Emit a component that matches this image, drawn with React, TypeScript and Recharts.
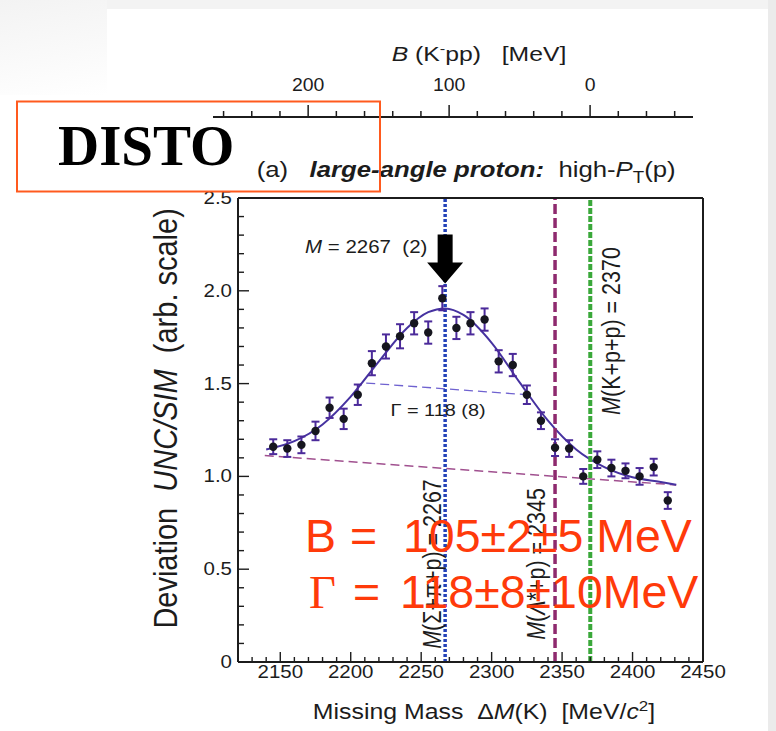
import React from "react";
import { ComposedChart, Scatter, Line, XAxis, YAxis, ReferenceLine, ReferenceDot, ErrorBar } from "recharts";

// measured points: missing mass [MeV/c2] -> deviation UNC/SIM
const massPoints = [2145, 2155, 2165, 2175, 2185, 2195, 2205, 2215, 2225, 2235, 2245, 2255, 2265, 2275, 2285, 2295, 2305, 2315, 2325, 2335, 2345, 2355, 2365, 2375, 2385, 2395, 2405, 2415, 2425];
const deviation = [1.16, 1.15, 1.17, 1.245, 1.37, 1.31, 1.44, 1.61, 1.70, 1.755, 1.825, 1.775, 1.96, 1.80, 1.825, 1.845, 1.62, 1.60, 1.44, 1.30, 1.155, 1.15, 1.00, 1.09, 1.045, 1.03, 1.00, 1.05, 0.87];
const deviationErr = [0.04, 0.045, 0.045, 0.05, 0.055, 0.055, 0.055, 0.065, 0.065, 0.065, 0.06, 0.06, 0.065, 0.06, 0.06, 0.06, 0.06, 0.06, 0.05, 0.045, 0.045, 0.045, 0.04, 0.045, 0.045, 0.04, 0.045, 0.045, 0.045];

// fitted curve
const fitMass = [2140, 2160, 2180, 2200, 2220, 2240, 2255, 2267, 2280, 2300, 2320, 2340, 2360, 2380, 2400, 2420, 2431];
const fitValue = [1.145, 1.19, 1.28, 1.43, 1.62, 1.80, 1.885, 1.905, 1.87, 1.72, 1.505, 1.30, 1.145, 1.05, 0.995, 0.97, 0.955];
const bgMass = [2139, 2431];
const bgValue = [1.112, 0.954];
const fwhmMass = [2211, 2325];
const fwhmValue = [1.503, 1.44];

// thresholds
const sigmaPiP = 2267;
const lambdaStarP = 2345;
const kpp = 2370;

const massTicks = [2120, 2130, 2140, 2150, 2160, 2170, 2180, 2190, 2200, 2210, 2220, 2230, 2240, 2250, 2260, 2270, 2280, 2290, 2300, 2310, 2320, 2330, 2340, 2350, 2360, 2370, 2380, 2390, 2400, 2410, 2420, 2430, 2440, 2450];
const devTicks = [0, 0.1, 0.2, 0.3, 0.4, 0.5, 0.6, 0.7, 0.8, 0.9, 1.0, 1.1, 1.2, 1.3, 1.4, 1.5, 1.6, 1.7, 1.8, 1.9, 2.0, 2.1, 2.2, 2.3, 2.4, 2.5];
const bindTicks = [260, 240, 220, 200, 180, 160, 140, 120, 100, 80, 60, 40, 20, 0, -20, -40, -60];

const INK = "#1c1c1c";
const FONT = "'Liberation Sans', Arial, Helvetica, sans-serif";
const SERIF = "'Liberation Serif', 'Times New Roman', serif";
const SX = 1.17; // figure text is stretched horizontally
const RED = "#ff3a0a";

function SText({ x, y, size, anchor = "middle", rot = false, sx = SX, children }: any) {
  const tr = `translate(${x},${y}) scale(${sx},1)${rot ? " rotate(-90)" : ""}`;
  return (
    <text transform={tr} fontSize={size} textAnchor={anchor} fill={INK} fontFamily={FONT} style={{ whiteSpace: "pre" }}>
      {children}
    </text>
  );
}

const isMajorMass = (v: number) => v % 50 === 0;
const isMajorDev = (v: number) => Math.round(v * 10) % 5 === 0;

const BottomTick = (p: any) => {
  const v = p.payload.value;
  const major = isMajorMass(v);
  return (
    <g>
      <line x1={p.x} x2={p.x} y1={p.y} y2={p.y - (major ? 10 : 5)} stroke={INK} strokeWidth={1.4} />
      {major && v !== 2120 ? <SText x={p.x} y={p.y + 16} size={17.5}>{v}</SText> : null}
    </g>
  );
};

const TopTick = (p: any) => {
  const major = isMajorMass(p.payload.value);
  return <line x1={p.x} x2={p.x} y1={p.y} y2={p.y + (major ? 10 : 5)} stroke={INK} strokeWidth={1.4} />;
};

const LeftTick = (p: any) => {
  const v = p.payload.value;
  const major = isMajorDev(v);
  return (
    <g>
      <line x1={p.x} x2={p.x + (major ? 11 : 6)} y1={p.y} y2={p.y} stroke={INK} strokeWidth={1.4} />
      {major ? <SText x={p.x - 6} y={p.y + 6} size={17.5} anchor="end">{v === 0 ? "0" : v.toFixed(1)}</SText> : null}
    </g>
  );
};

const RightTick = (p: any) => {
  const major = isMajorDev(p.payload.value);
  return <line x1={p.x} x2={p.x - (major ? 10 : 5)} y1={p.y} y2={p.y} stroke={INK} strokeWidth={1.4} />;
};

const BTick = (p: any) => {
  const v = p.payload.value;
  const major = v % 100 === 0;
  return (
    <g>
      <line x1={p.x} x2={p.x} y1={p.y} y2={p.y - (major ? 12 : 6)} stroke={INK} strokeWidth={1.5} />
      {major ? <SText x={p.x} y={p.y - 26} size={18} sx={1.08}>{v}</SText> : null}
    </g>
  );
};

const vLabel = (dx: number, dy: number, parts: React.ReactNode) => (props: any) => {
  const vb = props.viewBox;
  return <SText x={vb.x + dx} y={vb.y + dy} size={21.5} rot>{parts}</SText>;
};

const Arrow = (p: any) => {
  const { cx, cy } = p;
  const pts = [
    [cx, cy], [cx - 18, cy - 21], [cx - 7.5, cy - 21], [cx - 7.5, cy - 49],
    [cx + 7.5, cy - 49], [cx + 7.5, cy - 21], [cx + 18, cy - 21],
  ].map((q) => q.join(",")).join(" ");
  return <polygon points={pts} fill="#000" />;
};

export default function App() {
  const points = massPoints.map((m, i) => ({ m, v: deviation[i], e: deviationErr[i] }));
  const fit = fitMass.map((m, i) => ({ m, v: fitValue[i] }));
  const bg = bgMass.map((m, i) => ({ m, v: bgValue[i] }));
  const fwhm = fwhmMass.map((m, i) => ({ m, v: fwhmValue[i] }));
  const bAxisData = bindTicks.map((b) => ({ b }));

  return (
    <div style={{ position: "absolute", left: 0, top: 0, width: 776, height: 731, background: "#fff", overflow: "hidden" }}>
      <div style={{ position: "absolute", left: 0, top: 0, width: 776, height: 9, background: "#f3f3f3" }} />
      <div style={{ position: "absolute", left: 0, top: 0, width: 107, height: 95, background: "linear-gradient(170deg, #f3f3f3, #fafafa 60%, #fff)" }} />
      <div style={{ position: "absolute", left: 768, top: 0, width: 8, height: 731, background: "#ebebeb" }} />

      {/* binding energy axis */}
      <div style={{ position: "absolute", left: 0, top: 0 }}>
        <ComposedChart width={776} height={120} data={bAxisData} margin={{ top: 37, right: 83, bottom: 0, left: 213 }}>
          <XAxis
            dataKey="b" type="number" orientation="top" domain={[-73, 267.5]} reversed allowDataOverflow
            ticks={bindTicks} interval={0} height={80} tickSize={0} tickMargin={0} tickLine={false}
            axisLine={{ stroke: INK, strokeWidth: 2 }} tick={(p: any) => <BTick {...p} />}
            label={{
              content: (props: any) => {
                const vb = props.viewBox;
                return (
                  <SText x={vb.x + 178.7} y={vb.y + 23.7} size={19.5} anchor="start" sx={1.27}>
                    <tspan fontStyle="italic">B</tspan>
                    <tspan> (K</tspan>
                    <tspan fontSize={13} dy={-8}>-</tspan>
                    <tspan dy={8}>pp)   [MeV]</tspan>
                  </SText>
                );
              },
            }}
          />
          <YAxis hide width={0} domain={[0, 1]} />
        </ComposedChart>
      </div>

      <div style={{ position: "absolute", left: 0, top: 0 }}>
        <ComposedChart width={776} height={731} margin={{ top: 178, right: 53, bottom: 39, left: 198 }}>
          <XAxis
            dataKey="m" type="number" domain={[2120, 2450]} ticks={massTicks} interval={0} height={30}
            tickSize={0} tickMargin={0} tickLine={false} axisLine={{ stroke: INK, strokeWidth: 2 }}
            tick={(p: any) => <BottomTick {...p} />}
            label={{
              content: (props: any) => {
                const vb = props.viewBox;
                return (
                  <SText x={vb.x + vb.width / 2 + 13.5} y={vb.y + 57} size={22} sx={1.13}>
                    <tspan>Missing Mass  Δ</tspan>
                    <tspan fontStyle="italic">M</tspan>
                    <tspan>(K)  [MeV/</tspan>
                    <tspan fontStyle="italic">c</tspan>
                    <tspan fontSize={15} dy={-8}>2</tspan>
                    <tspan dy={8}>]</tspan>
                  </SText>
                );
              },
            }}
          />
          <XAxis
            xAxisId="top" dataKey="m" type="number" orientation="top" domain={[2120, 2450]} ticks={massTicks}
            interval={0} height={20} tickSize={0} tickMargin={0} tickLine={false}
            axisLine={{ stroke: INK, strokeWidth: 2 }} tick={(p: any) => <TopTick {...p} />}
            label={{
              content: (props: any) => {
                const vb = props.viewBox;
                return (
                  <SText x={vb.x + 18.7} y={vb.y - 1.3} size={22} anchor="start">
                    <tspan>(a)   </tspan>
                    <tspan fontWeight="bold" fontStyle="italic">large-angle proton:</tspan>
                    <tspan>  high-</tspan>
                    <tspan fontStyle="italic">P</tspan>
                    <tspan fontSize={16} dy={6}>T</tspan>
                    <tspan dy={-6}>(p)</tspan>
                  </SText>
                );
              },
            }}
          />
          <YAxis
            type="number" domain={[0, 2.5]} ticks={devTicks} interval={0} width={40}
            tickSize={0} tickMargin={0} tickLine={false} axisLine={{ stroke: INK, strokeWidth: 2 }}
            tick={(p: any) => <LeftTick {...p} />}
            label={{
              content: (props: any) => {
                const vb = props.viewBox;
                return (
                  <SText x={vb.x - 21.3} y={vb.y + vb.height / 2 - 11.6} size={29} rot>
                    <tspan>Deviation  </tspan>
                    <tspan fontStyle="italic">UNC/SIM</tspan>
                    <tspan>  (arb. scale)</tspan>
                  </SText>
                );
              },
            }}
          />
          <YAxis
            yAxisId="right" orientation="right" type="number" domain={[0, 2.5]} ticks={devTicks} interval={0}
            width={20} tickSize={0} tickMargin={0} tickLine={false} axisLine={{ stroke: INK, strokeWidth: 2 }}
            tick={(p: any) => <RightTick {...p} />}
          />

          <Line data={bg} dataKey="v" type="linear" stroke="#a0508f" strokeWidth={1.5} strokeDasharray="9 5" dot={false} isAnimationActive={false} />
          <Line data={fwhm} dataKey="v" type="linear" stroke="#6f62d0" strokeWidth={1.3} strokeDasharray="9 5" dot={false} isAnimationActive={false} />
          <Line data={fit} dataKey="v" type="monotone" stroke="#4632a0" strokeWidth={2} dot={false} isAnimationActive={false} />

          <ReferenceLine x={sigmaPiP} stroke="#2342b8" strokeWidth={3.5} strokeDasharray="3 2"
            label={{ content: vLabel(-4.5, 366, [<tspan key="a" fontStyle="italic">M</tspan>, <tspan key="b">(Σ+π+p) = 2267</tspan>]) }} />
          <ReferenceLine x={lambdaStarP} stroke="#8e2a6e" strokeWidth={3.5} strokeDasharray="10 4"
            label={{ content: vLabel(-10, 366, [<tspan key="a" fontStyle="italic">M</tspan>, <tspan key="b">(</tspan>, <tspan key="c" fontStyle="italic">Λ</tspan>, <tspan key="d">*+p) = 2345</tspan>]) }} />
          <ReferenceLine x={kpp} stroke="#3aa83a" strokeWidth={4} strokeDasharray="6 2"
            label={{ content: vLabel(30, 133, [<tspan key="a" fontStyle="italic">M</tspan>, <tspan key="b">(K+p+p) = 2370</tspan>]) }} />

          <Scatter data={points} dataKey="v" isAnimationActive={false}
            shape={(p: any) => <circle cx={p.cx} cy={p.cy} r={4.2} fill="#16161f" />}>
            <ErrorBar dataKey="e" direction="y" width={4} stroke="#4b2a9a" strokeWidth={2} isAnimationActive={false} />
          </Scatter>

          <ReferenceDot x={sigmaPiP} y={2.04} r={0} shape={(p: any) => <Arrow {...p} />} />
          <ReferenceDot x={2211} y={2.205} r={0}
            shape={(p: any) => (
              <SText x={p.cx} y={p.cy} size={17.5}>
                <tspan fontStyle="italic">M</tspan>
                <tspan> = 2267  (2)</tspan>
              </SText>
            )} />
          <ReferenceDot x={2262} y={1.325} r={0}
            shape={(p: any) => <SText x={p.cx} y={p.cy} size={17}>Γ = 118 (8)</SText>} />
        </ComposedChart>
      </div>

      <svg width={776} height={731} style={{ position: "absolute", left: 0, top: 0, pointerEvents: "none" }}>
        <rect x={17} y={101.5} width={363} height={90} fill="none" stroke="#ff5a1e" strokeWidth={2} />
        <text x={58} y={165} fontSize={57} fontWeight="bold" fontFamily={SERIF} fill="#000">DISTO</text>
        <text x={305} y={552} fontSize={46.5} fontFamily={FONT} fill={RED}>B</text>
        <text x={350} y={552} fontSize={46.5} fontFamily={FONT} fill={RED}>=</text>
        <text x={403} y={552} fontSize={46.5} fontFamily={FONT} fill={RED} style={{ whiteSpace: "pre" }}>105±2±5 MeV</text>
        <text x={309} y={608} fontSize={46.5} fontFamily={SERIF} fill={RED}>Γ</text>
        <text x={353} y={608} fontSize={46.5} fontFamily={FONT} fill={RED}>=</text>
        <text x={400} y={608} fontSize={46.5} fontFamily={FONT} fill={RED}>118±8±10MeV</text>
      </svg>
    </div>
  );
}
